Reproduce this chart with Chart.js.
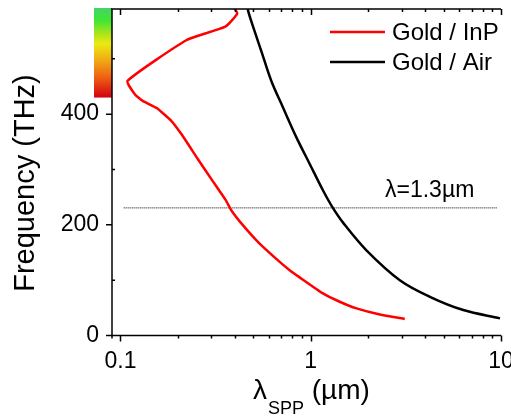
<!DOCTYPE html>
<html>
<head>
<meta charset="utf-8">
<script src="https://cdn.jsdelivr.net/npm/chart.js@4"></script>
<style>
  html, body { margin: 0; padding: 0; background: #ffffff; }
  #c { display: block; }
</style>
</head>
<body>
<canvas id="c" width="511" height="418"></canvas>
<script>
// SPP dispersion: wavelength (µm) vs frequency (THz)
const inpWavelength = [0.385, 0.411, 0.356, 0.223, 0.109, 0.119, 0.131, 0.155, 0.185, 0.209, 0.255, 0.300, 0.357, 0.383, 0.441, 0.539, 0.687, 0.775, 0.875, 1.16, 1.42, 1.74, 2.31, 3.12];
const inpFrequency  = [598,   582,   558,   534,   460,   436,   424,   411,   388,   364,   319,   283,   245,   226,   199,   166,   133,   118,   105,   76,   61,   49,   38,   30];
const airWavelength = [0.462, 0.468, 0.487, 0.550, 0.621, 0.715, 0.841, 0.988, 1.161, 1.30, 1.479, 1.963, 2.94, 4.23, 6.34, 9.88];
const airFrequency  = [600,   588,   568,   514,   460,   412,   358,   310,   262,   232,  204,   154,   100,  70,   46,   31];

const seriesLabels = ['Gold / InP', 'Gold / Air'];
const xTickValues = [0.1, 1, 10];
const yTickValues = [0, 200, 400];
const yMinorValues = [100, 300, 500];

// telecom wavelength marker
const markerWavelength = 1.3;
const markerFrequency = 299.8 / markerWavelength;
const markerSpan = [0.104, 9.5];

// visible band shown as colour bar next to the frequency axis
const visibleBand = [430, 590];

const FONT = '"Liberation Sans", Arial, sans-serif';

function pairs(xs, ys) { return xs.map((x, i) => ({ x: x, y: ys[i] })); }

function logMinors(min, max) {
  const out = [];
  for (let d = -2; d <= 1; d++) {
    for (let k = 1; k <= 9; k++) {
      const v = k * Math.pow(10, d);
      if (v >= min * 0.999 && v <= max * 1.001) out.push({ v: v, major: k === 1 });
    }
  }
  return out;
}

const framePlugin = {
  id: 'frame',
  beforeDatasetsDraw(chart) {
    const ctx = chart.ctx;
    const a = chart.chartArea;
    const y = chart.scales.y;
    // colour bar for the visible range
    const top = y.getPixelForValue(visibleBand[1]) - 1;
    const bot = y.getPixelForValue(visibleBand[0]);
    const g = ctx.createLinearGradient(0, top, 0, bot);
    g.addColorStop(0.00, '#44d466');
    g.addColorStop(0.14, '#3fe634');
    g.addColorStop(0.30, '#b4e418');
    g.addColorStop(0.40, '#eaea12');
    g.addColorStop(0.60, '#f0a414');
    g.addColorStop(0.78, '#ef5e12');
    g.addColorStop(1.00, '#d20010');
    ctx.save();
    ctx.fillStyle = g;
    ctx.fillRect(a.left - 18, top, 18, bot - top);
    ctx.restore();
  },
  afterDraw(chart) {
    const ctx = chart.ctx;
    const a = chart.chartArea;
    const xs = chart.scales.x;
    const ys = chart.scales.y;
    ctx.save();
    ctx.strokeStyle = '#000';
    ctx.lineWidth = 1.5;
    ctx.beginPath();
    // left, bottom and top axis lines
    ctx.moveTo(a.left, a.top); ctx.lineTo(a.left, a.bottom + 3);
    ctx.moveTo(a.left - 6, a.bottom); ctx.lineTo(a.right, a.bottom);
    ctx.moveTo(a.left - 1, a.top); ctx.lineTo(a.right, a.top);
    // x ticks: outward on bottom, inward on top
    logMinors(xs.min, xs.max).forEach(t => {
      const px = Math.round(xs.getPixelForValue(t.v)) + 0.5;
      ctx.moveTo(px, a.bottom); ctx.lineTo(px, a.bottom + (t.major ? 6 : 3));
      ctx.moveTo(px, a.top); ctx.lineTo(px, a.top + (t.major ? 6 : 3));
    });
    // y ticks: major outward, minor inward
    yTickValues.forEach(v => {
      const py = ys.getPixelForValue(v);
      ctx.moveTo(a.left - 6, py); ctx.lineTo(a.left, py);
    });
    yMinorValues.forEach(v => {
      const py = ys.getPixelForValue(v);
      ctx.moveTo(a.left, py); ctx.lineTo(a.left + 3, py);
    });
    ctx.stroke();

    // legend
    const legend = [
      { label: seriesLabels[0], color: '#ff0000', y: 32 },
      { label: seriesLabels[1], color: '#000000', y: 62 }
    ];
    ctx.font = '24px ' + FONT;
    ctx.textBaseline = 'middle';
    ctx.textAlign = 'left';
    legend.forEach(it => {
      ctx.strokeStyle = it.color;
      ctx.lineWidth = 2.5;
      ctx.beginPath();
      ctx.moveTo(330, it.y); ctx.lineTo(385, it.y);
      ctx.stroke();
      ctx.fillStyle = '#000';
      ctx.fillText(it.label, 392, it.y + 1);
    });

    // marker label
    ctx.font = '23px ' + FONT;
    ctx.textBaseline = 'alphabetic';
    ctx.fillText('\u03bb=' + markerWavelength + '\u00b5m', 385, 197);

    // axis titles
    ctx.font = '28px ' + FONT;
    let x = 253;
    ctx.fillText('\u03bb', x, 399);
    x += ctx.measureText('\u03bb').width + 1;
    ctx.font = '18px ' + FONT;
    ctx.fillText('SPP', x, 414);
    x += ctx.measureText('SPP').width;
    ctx.font = '28px ' + FONT;
    ctx.fillText(' (\u00b5m)', x, 399);

    ctx.translate(34, 183);
    ctx.rotate(-Math.PI / 2);
    ctx.textAlign = 'center';
    ctx.font = '29px ' + FONT;
    ctx.fillText('Frequency (THz)', 0, 0);
    ctx.restore();
  }
};

new Chart(document.getElementById('c'), {
  type: 'line',
  data: {
    datasets: [
      {
        label: seriesLabels[0],
        data: pairs(inpWavelength, inpFrequency),
        borderColor: '#ff0000',
        borderWidth: 2.5,
        pointRadius: 0,
        tension: 0.15
      },
      {
        label: seriesLabels[1],
        data: pairs(airWavelength, airFrequency),
        borderColor: '#000000',
        borderWidth: 2.5,
        pointRadius: 0,
        tension: 0.35
      },
      {
        label: 'marker',
        data: markerSpan.map(w => ({ x: w, y: markerFrequency })),
        borderColor: '#000000',
        borderWidth: 1,
        borderDash: [1, 1],
        pointRadius: 0
      }
    ]
  },
  options: {
    responsive: false,
    animation: false,
    layout: { padding: { top: 9, right: 10, left: 0, bottom: 0 } },
    plugins: { legend: { display: false }, tooltip: { enabled: false } },
    scales: {
      x: {
        type: 'logarithmic',
        min: 0.0903,
        max: 10,
        afterBuildTicks(scale) { scale.ticks = xTickValues.map(v => ({ value: v })); },
        afterFit(scale) {
          scale.height = 82.5;
          scale.paddingLeft = 0;
          scale.paddingRight = 0;
        },
        grid: { display: false, drawTicks: true, tickLength: 6 },
        border: { display: false },
        ticks: {
          autoSkip: false,
          maxRotation: 0,
          padding: 6,
          color: '#000',
          font: { family: FONT, size: 23 },
          callback: v => String(v)
        }
      },
      y: {
        type: 'linear',
        min: 0,
        max: 590,
        afterBuildTicks(scale) { scale.ticks = yTickValues.map(v => ({ value: v })); },
        afterFit(scale) {
          scale.width = 112;
          scale.paddingTop = 0;
          scale.paddingBottom = 0;
        },
        grid: { display: false, drawTicks: true, tickLength: 6 },
        border: { display: false },
        ticks: {
          padding: 7,
          color: '#000',
          font: { family: FONT, size: 23 },
          callback: v => String(v)
        }
      }
    }
  },
  plugins: [framePlugin]
});
</script>
</body>
</html>
